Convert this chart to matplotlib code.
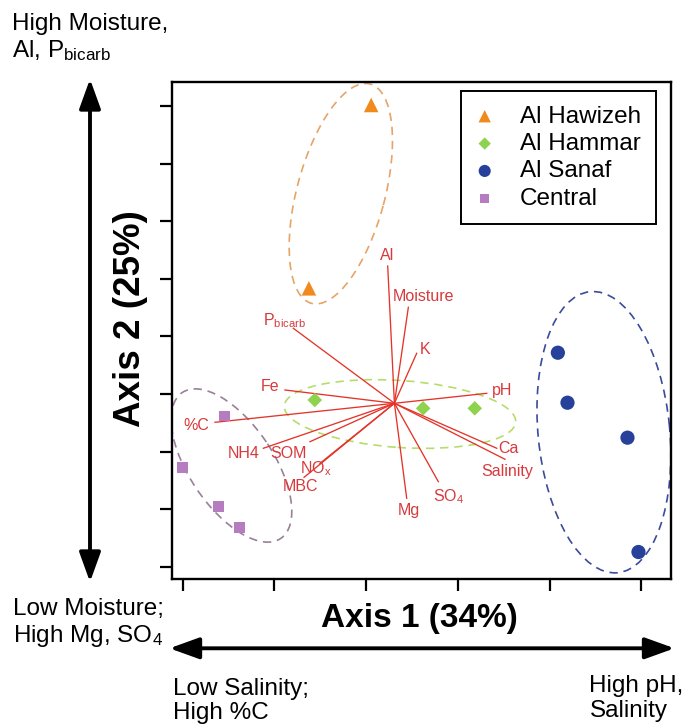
import matplotlib
matplotlib.use('Agg')
import matplotlib.pyplot as plt
from matplotlib.patches import Ellipse
from matplotlib.transforms import Affine2D

plt.rcParams['font.family'] = ['Liberation Sans', 'DejaVu Sans']
plt.rcParams['mathtext.fontset'] = 'custom'
plt.rcParams['mathtext.rm'] = 'Liberation Sans'
plt.rcParams['mathtext.it'] = 'Liberation Sans:italic'
plt.rcParams['mathtext.bf'] = 'Liberation Sans:bold'

# ---------------- data (ordination scores) ----------------
sites = ['Al Hawizeh', 'Al Hammar', 'Al Sanaf', 'Central']
hawizeh_x = [2.056, 1.377]
hawizeh_y = [8.016, 4.833]
hammar_x = [1.441, 2.622, 3.185]
hammar_y = [2.894, 2.750, 2.750]
sanaf_x = [4.091, 4.196, 4.850, 4.970]
sanaf_y = [3.715, 2.847, 2.240, 0.255]
central_x = [0.452, -0.004, 0.396, 0.618]
central_y = [2.616, 1.726, 1.042, 0.684]

# environmental vectors (biplot)
vec_origin = (2.309, 2.837)
vec_names = ['Al', 'Moisture', 'K', r'P$_\mathregular{bicarb}$', 'Fe', 'pH', '%C',
             'NH4', 'SOM', r'NO$_\mathregular{x}$', 'MBC', 'Ca', 'Salinity',
             r'SO$_\mathregular{4}$', 'Mg']
vec_x = [2.236, 2.461, 2.552, 1.207, 1.116, 3.316, 0.353,
         0.880, 1.389, 1.498, 1.324, 3.425, 3.515, 2.788, 2.443]
vec_y = [5.220, 4.503, 3.705, 4.139, 3.068, 3.010, 2.507,
         2.056, 2.170, 1.795, 1.552, 2.056, 1.865, 1.476, 1.188]
label_x = [2.231, 2.628, 2.646, 0.880, 0.950, 3.485, 0.146,
           0.667, 1.152, 1.280, 1.289, 3.551, 3.542, 2.733, 2.463]
label_y = [5.411, 4.688, 3.766, 4.196, 3.132, 3.063, 2.460,
           1.974, 1.974, 1.622, 1.401, 2.047, 1.649, 1.128, 0.984]

# group ellipses: centre x, centre y, major, minor (x-units), angle (deg)
ell_cx = [1.725, 2.370, 4.593, 0.533]
ell_cy = [6.476, 2.651, 2.335, 1.757]
ell_major = [2.475, 2.529, 3.079, 1.919]
ell_minor = [0.959, 0.730, 1.435, 0.916]
ell_angle = [75.0, -4.0, 95.6, 124.0]

# ---------------- styles ----------------
site_colors = ['#f08a1c', '#8ed24e', '#27419b', '#b57cc0']
site_markers = ['^', 'D', 'o', 's']
site_sizes = [110, 55, 105, 62]
ell_colors = ['#e6a466', '#b6dc6a', '#3b4b9b', '#9a8099']
vec_color = '#e4342a'
lab_color = '#d83a3c'
align = {r'P$_\mathregular{bicarb}$': ('left', 'baseline'),
         r'NO$_\mathregular{x}$': ('left', 'baseline'),
         r'SO$_\mathregular{4}$': ('left', 'baseline')}

W, H = 682, 724
fig = plt.figure(figsize=(W / 100, H / 100), dpi=100)
ax = fig.add_axes([172 / W, 1 - 579 / H, (670.5 - 172) / W, (579 - 82) / H])
ax.set_xlim(-0.1156, 5.319)
ax.set_ylim(-0.2135, 8.415)
ax.set_xticks(range(6))
ax.set_yticks(range(9))
ax.tick_params(direction='out', length=8.5, width=1.6, labelleft=False,
               labelbottom=False)
for s in ax.spines.values():
    s.set_linewidth(1.7)

ky = 91.72 / 57.6
for cx, cy, a, b, ang, c in zip(ell_cx, ell_cy, ell_major, ell_minor, ell_angle, ell_colors):
    tr = Affine2D().scale(1, ky).translate(cx, cy) + ax.transData
    e = Ellipse((0, 0), a, b, angle=ang, fill=False, edgecolor=c, lw=1.2,
                linestyle=(0, (5, 3.5)), transform=tr, zorder=1)
    ax.add_patch(e)

for vx, vy in zip(vec_x, vec_y):
    ax.plot([vec_origin[0], vx], [vec_origin[1], vy], color=vec_color, lw=0.95, zorder=2)

for name, lx, ly in zip(vec_names, label_x, label_y):
    ha, va = align.get(name, ('center', 'center'))
    ax.text(lx, ly, name, color=lab_color, fontsize=11.5, ha=ha, va=va, zorder=3)

xs = [hawizeh_x, hammar_x, sanaf_x, central_x]
ys = [hawizeh_y, hammar_y, sanaf_y, central_y]
handles = []
for name, x, y, c, m, sz in zip(sites, xs, ys, site_colors, site_markers, site_sizes):
    h = ax.scatter(x, y, c=c, marker=m, s=sz, edgecolors='none', label=name, zorder=4)
    handles.append(h)

leg = ax.legend(handles=handles, loc='upper left',
                bbox_to_anchor=(461 / W, 1 - 91 / H), bbox_transform=fig.transFigure,
                fontsize=17.5, frameon=True, fancybox=False, framealpha=1,
                edgecolor='black', borderpad=0.6, labelspacing=0.22,
                handlelength=0.75, handletextpad=1.08, borderaxespad=0,
                markerscale=0.85)
leg.get_frame().set_linewidth(1.4)

# ---------------- outer annotations ----------------
def ftext(x, y, s, **kw):
    fig.text(x / W, 1 - y / H, s, **kw)

fs = 17.5
ftext(12, 30, 'High Moisture,', fontsize=fs, va='baseline')
ftext(12, 57, r'Al, P$_\mathregular{bicarb}$', fontsize=fs, va='baseline')
ftext(12.7, 615, 'Low Moisture;', fontsize=fs, va='baseline')
ftext(12.7, 641.7, r'High Mg, SO$_\mathregular{4}$', fontsize=fs, va='baseline')
ftext(172.7, 695, 'Low Salinity;', fontsize=fs, va='baseline')
ftext(172.7, 719, 'High %C', fontsize=fs, va='baseline')
ftext(589, 691.7, 'High pH,', fontsize=fs, va='baseline')
ftext(590, 716.7, 'Salinity', fontsize=fs, va='baseline')
ftext(419, 626.7, 'Axis 1 (34%)', fontsize=24, fontweight='bold', ha='center', va='baseline')
ftext(131, 319, 'Axis 2 (25%)', fontsize=26.5, fontweight='bold', ha='center', va='center',
      rotation=90)

arrow_kw = dict(arrowstyle='<|-|>,head_length=18,head_width=6.5', lw=2.8,
                color='black', shrinkA=0, shrinkB=0, mutation_scale=1)
ax.annotate('', xy=(90, H - 79), xytext=(90, H - 582), xycoords='figure pixels',
            textcoords='figure pixels', arrowprops=arrow_kw, annotation_clip=False)
ax.annotate('', xy=(674.5, H - 648.3), xytext=(169.5, H - 648.3), xycoords='figure pixels',
            textcoords='figure pixels', arrowprops=arrow_kw, annotation_clip=False)

fig.savefig('out.png', dpi=100)
